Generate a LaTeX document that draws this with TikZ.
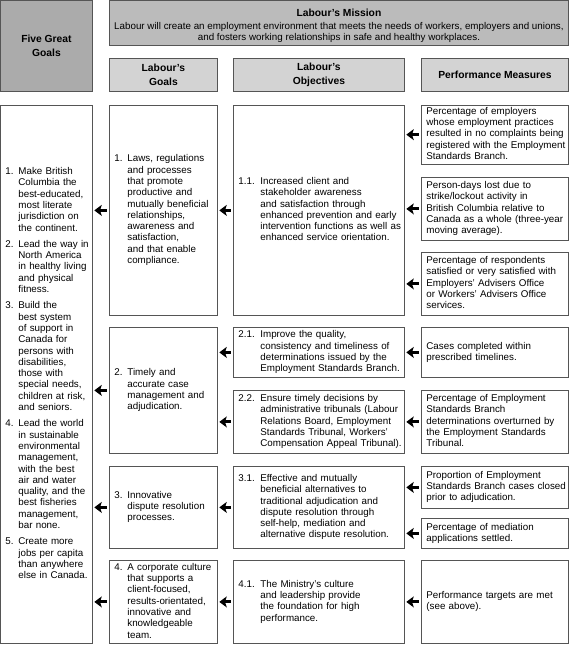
\documentclass[tikz,border=0pt]{standalone}
\usepackage{fontspec}
\setmainfont{Liberation Sans}
\usetikzlibrary{arrows.meta}
\definecolor{bordc}{HTML}{555555}
\definecolor{darkfill}{HTML}{ABABAB}
\definecolor{midfill}{HTML}{BBBBBB}
\definecolor{lightfill}{HTML}{D3D3D3}
\newcommand{\numlist}[2]{\begin{tabular}{@{}p{#1}@{}l@{}}#2\end{tabular}}
\newcommand{\plainlist}[1]{\begin{tabular}{@{}l@{}}#1\end{tabular}}
\newcommand{\mtext}{\mdseries\fontsize{9.8}{11}\selectfont}
\tikzset{
  bx/.style={draw=bordc, line width=0.8pt, fill=white, inner xsep=5pt, inner ysep=1pt,
    anchor=north west, align=left, font=\fontsize{9.8}{11.3}\selectfont},
  hdr/.style={draw=bordc, line width=0.9pt, fill=lightfill, anchor=north west,
    align=center, inner sep=1pt, font=\fontsize{10.3}{14}\selectfont\bfseries},
  arr/.style={-{Stealth[length=7.5pt,width=11pt,inset=1.8pt]}, line width=3pt, black,
    shorten <=2.5pt, shorten >=1.5pt}
}
\begin{document}
\begin{tikzpicture}[x=1pt,y=-1pt]
\useasboundingbox (0,0) rectangle (570,645);
% header
\node[hdr, fill=darkfill, minimum width=92pt, minimum height=91pt] (five) at (0,0) {Five Great\\Goals};
\node[hdr, fill=midfill, minimum width=459pt, minimum height=45pt] (mission) at (109,0)
  {\rule{0pt}{13pt}Labour’s Mission\\[-0.4pt]
   {\mtext Labour will create an employment environment that meets the needs of workers, employers and unions,}\\[-3pt]
   {\mtext and fosters working relationships in safe and healthy workplaces.}};
\node[hdr, minimum width=108pt, minimum height=33pt] (hg) at (109,58) {Labour’s\\Goals};
\node[hdr, minimum width=171pt, minimum height=33pt] (ho) at (233,58) {Labour’s\\Objectives};
\node[hdr, minimum width=147pt, minimum height=33pt] (hp) at (421,58) {Performance Measures};
% five great goals list
\node[bx, minimum width=92pt, minimum height=538pt, text width=82pt] (left) at (0,105)
 {\numlist{13pt}{1.&Make British\\&Columbia the\\&best-educated,\\&most literate\\&jurisdiction on\\&the continent.\\[5pt]
  2.&Lead the way in\\&North America\\&in healthy living\\&and physical\\&fitness.\\[5pt]
  3.&Build the\\&best system\\&of support in\\&Canada for\\&persons with\\&disabilities,\\&those with\\&special needs,\\&children at risk,\\&and seniors.\\[5pt]
  4.&Lead the world\\&in sustainable\\&environmental\\&management,\\&with the best\\&air and water\\&quality, and the\\&best fisheries\\&management,\\&bar none.\\[5pt]
  5.&Create more\\&jobs per capita\\&than anywhere\\&else in Canada.}};
% goals
\node[bx, minimum width=108pt, minimum height=210pt, text width=98pt] (g1) at (109,105)
 {\numlist{13pt}{1.&Laws, regulations\\&and processes\\&that promote\\&productive and\\&mutually beneficial\\&relationships,\\&awareness and\\&satisfaction,\\&and that enable\\&compliance.}};
\node[bx, minimum width=108pt, minimum height=126pt, text width=98pt] (g2) at (109,327)
 {\numlist{13pt}{2.&Timely and\\&accurate case\\&management and\\&adjudication.}};
\node[bx, minimum width=108pt, minimum height=82pt, text width=98pt] (g3) at (109,466)
 {\numlist{13pt}{3.&Innovative\\&dispute resolution\\&processes.}};
\node[bx, minimum width=108pt, minimum height=83pt, text width=98pt] (g4) at (109,560)
 {\numlist{13pt}{4.&A corporate culture\\&that supports a\\&client-focused,\\&results-orientated,\\&innovative and\\&knowledgeable\\&team.}};
% objectives
\node[bx, minimum width=171pt, minimum height=210pt, text width=161pt] (o11) at (233,105)
 {\numlist{22pt}{1.1.&Increased client and\\&stakeholder awareness\\&and satisfaction through\\&enhanced prevention and early\\&intervention functions as well as\\&enhanced service orientation.}};
\node[bx, minimum width=171pt, minimum height=50pt, text width=161pt] (o21) at (233,327)
 {\numlist{22pt}{2.1.&Improve the quality,\\&consistency and timeliness of\\&determinations issued by the\\&Employment Standards Branch.}};
\node[bx, minimum width=171pt, minimum height=63pt, text width=161pt] (o22) at (233,390)
 {\numlist{22pt}{2.2.&Ensure timely decisions by\\&administrative tribunals (Labour\\&Relations Board, Employment\\&Standards Tribunal, Workers’\\&Compensation Appeal Tribunal).}};
\node[bx, minimum width=171pt, minimum height=82pt, text width=161pt] (o31) at (233,466)
 {\numlist{22pt}{3.1.&Effective and mutually\\&beneficial alternatives to\\&traditional adjudication and\\&dispute resolution through\\&self-help, mediation and\\&alternative dispute resolution.}};
\node[bx, minimum width=171pt, minimum height=83pt, text width=161pt] (o41) at (233,560)
 {\numlist{22pt}{4.1.&The Ministry’s culture\\&and leadership provide\\&the foundation for high\\&performance.}};
% performance measures
\node[bx, minimum width=147pt, minimum height=58pt, text width=137pt] (p1) at (421,105)
 {\plainlist{Percentage of employers\\whose employment practices\\resulted in no complaints being\\registered with the Employment\\Standards Branch.}};
\node[bx, minimum width=147pt, minimum height=63pt, text width=137pt] (p2) at (421,177)
 {\plainlist{Person-days lost due to\\strike/lockout activity in\\British Columbia relative to\\Canada as a whole (three-year\\moving average).}};
\node[bx, minimum width=147pt, minimum height=63pt, text width=137pt] (p3) at (421,252)
 {\plainlist{Percentage of respondents\\satisfied or very satisfied with\\Employers’ Advisers Office\\or Workers’ Advisers Office\\services.}};
\node[bx, minimum width=147pt, minimum height=50pt, text width=137pt] (p21) at (421,327)
 {\plainlist{Cases completed within\\prescribed timelines.}};
\node[bx, minimum width=147pt, minimum height=63pt, text width=137pt] (p22) at (421,390)
 {\plainlist{Percentage of Employment\\Standards Branch\\determinations overturned by\\the Employment Standards\\Tribunal.}};
\node[bx, minimum width=147pt, minimum height=42pt, text width=137pt] (p31a) at (421,466)
 {\plainlist{Proportion of Employment\\Standards Branch cases closed\\prior to adjudication.}};
\node[bx, minimum width=147pt, minimum height=30pt, text width=137pt] (p31b) at (421,518)
 {\plainlist{Percentage of mediation\\applications settled.}};
\node[bx, minimum width=147pt, minimum height=83pt, text width=137pt] (p41) at (421,560)
 {\plainlist{Performance targets are met\\(see above).}};
% arrows
\foreach \s/\t in {g1/left, g2/left, g3/left, g4/left,
                   o11/g1, o21/g2, o22/g2, o31/g3, o41/g4,
                   p1/o11, p2/o11, p3/o11, p21/o21, p22/o22, p31a/o31, p31b/o31, p41/o41}
  \draw[arr] (\s.west) -- (\s.west -| \t.east);
\end{tikzpicture}
\end{document}
